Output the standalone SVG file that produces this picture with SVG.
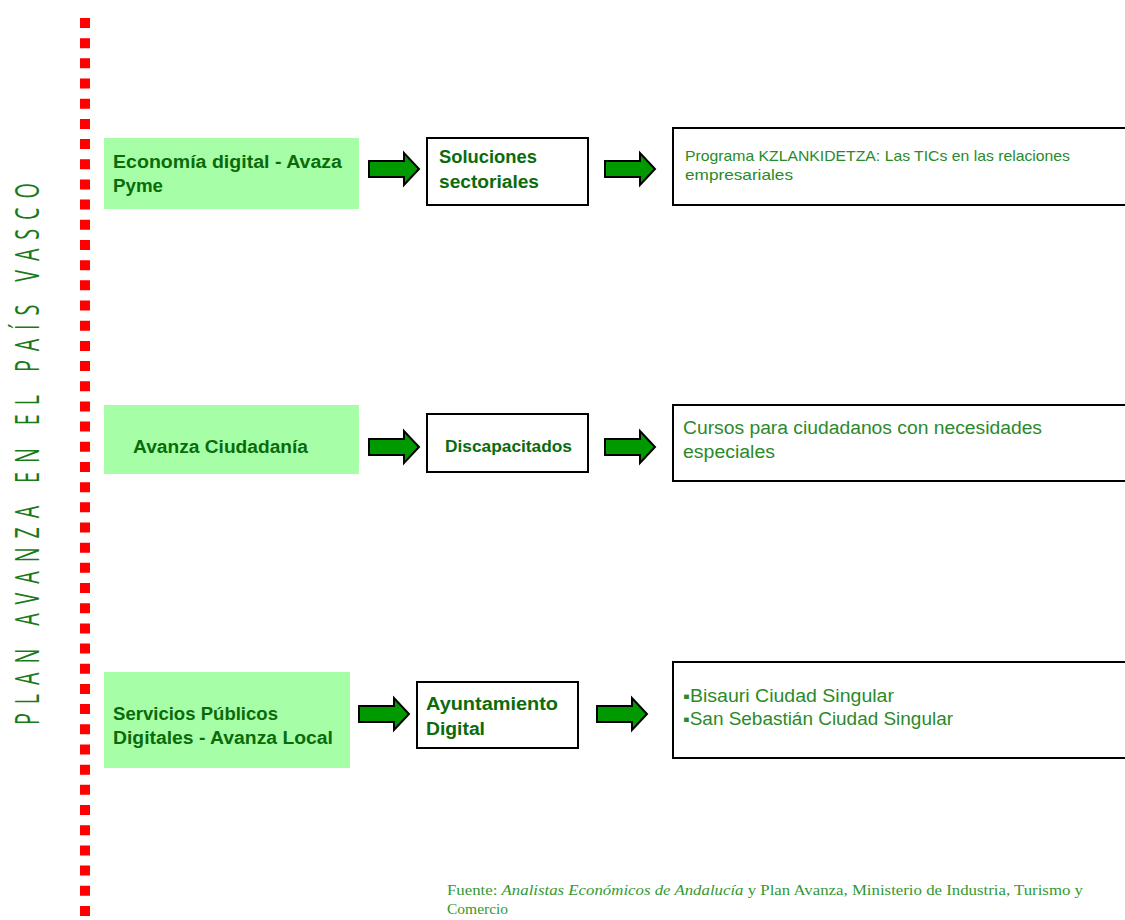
<svg xmlns="http://www.w3.org/2000/svg" width="1125" height="920" viewBox="0 0 1125 920">
<style>
.green{fill:#a6ffa6;stroke:none}
.box{fill:#ffffff;stroke:#000000;stroke-width:2}
.bold{font-family:"Liberation Sans",Arial,sans-serif;font-weight:bold;fill:#0b6b0b}
.light{font-family:"Liberation Sans",Arial,sans-serif;fill:#2a8a2a}
.arrow{fill:#009900;stroke:#000000;stroke-width:2;stroke-linejoin:miter}
.foot{font-family:"Liberation Serif","Times New Roman",serif;font-size:15.5px;fill:#339933}
</style>
<defs>
<path id="arr" d="M0,8 H35 V0 L50,16 L35,32 V24 H0 Z"/>
</defs>
<rect width="1125" height="920" fill="#ffffff"/>
<line x1="85" y1="18" x2="85" y2="916" stroke="#ff0000" stroke-width="10" stroke-dasharray="10 10.18"/>
<text transform="translate(39,725) rotate(-90) scale(0.6,1)" font-family="'Open Sans','Liberation Sans',sans-serif" font-weight="400" font-size="33" fill="#1a7a1a" textLength="903" lengthAdjust="spacing">PLAN AVANZA EN EL PAÍS VASCO</text>

<g id="connectors">
<use href="#arr" class="arrow" x="369" y="153"/>
<use href="#arr" class="arrow" x="605" y="153"/>
<use href="#arr" class="arrow" x="369" y="431"/>
<use href="#arr" class="arrow" x="605" y="431"/>
<use href="#arr" class="arrow" x="359" y="698"/>
<use href="#arr" class="arrow" x="597" y="698"/>
</g>

<g id="n1">
<rect class="green" x="104" y="138" width="255" height="71"/>
<text class="bold" font-size="18"><tspan x="113" y="168" textLength="229" lengthAdjust="spacingAndGlyphs">Economía digital - Avaza</tspan><tspan x="113" y="192" textLength="50" lengthAdjust="spacingAndGlyphs">Pyme</tspan></text>
</g>
<g id="n2">
<rect class="box" x="427" y="138" width="161" height="67"/>
<text class="bold" font-size="18"><tspan x="439" y="163" textLength="98" lengthAdjust="spacingAndGlyphs">Soluciones</tspan><tspan x="439" y="188" textLength="100" lengthAdjust="spacingAndGlyphs">sectoriales</tspan></text>
</g>
<g id="n3">
<rect class="box" x="673" y="128" width="460" height="77"/>
<text class="light" font-size="14.5"><tspan x="685" y="161" textLength="385" lengthAdjust="spacingAndGlyphs">Programa KZLANKIDETZA: Las TICs en las relaciones</tspan><tspan x="685" y="180" textLength="108" lengthAdjust="spacingAndGlyphs">empresariales</tspan></text>
</g>

<g id="n4">
<rect class="green" x="104" y="405" width="255" height="69"/>
<text class="bold" font-size="18" x="133" y="453" textLength="175" lengthAdjust="spacingAndGlyphs">Avanza Ciudadanía</text>
</g>
<g id="n5">
<rect class="box" x="427" y="414" width="161" height="58"/>
<text class="bold" font-size="16" x="445" y="452" textLength="127" lengthAdjust="spacingAndGlyphs">Discapacitados</text>
</g>
<g id="n6">
<rect class="box" x="673" y="405" width="460" height="76"/>
<text class="light" font-size="18"><tspan x="683" y="434" textLength="359" lengthAdjust="spacingAndGlyphs">Cursos para ciudadanos con necesidades</tspan><tspan x="683" y="458" textLength="92" lengthAdjust="spacingAndGlyphs">especiales</tspan></text>
</g>

<g id="n7">
<rect class="green" x="104" y="672" width="246" height="96"/>
<text class="bold" font-size="18"><tspan x="113" y="720" textLength="165" lengthAdjust="spacingAndGlyphs">Servicios Públicos</tspan><tspan x="113" y="744" textLength="220" lengthAdjust="spacingAndGlyphs">Digitales - Avanza Local</tspan></text>
</g>
<g id="n8">
<rect class="box" x="417" y="682" width="161" height="66"/>
<text class="bold" font-size="18"><tspan x="426" y="710" textLength="132" lengthAdjust="spacingAndGlyphs">Ayuntamiento</tspan><tspan x="426" y="735" textLength="59" lengthAdjust="spacingAndGlyphs">Digital</tspan></text>
</g>
<g id="n9">
<rect class="box" x="673" y="662" width="460" height="96"/>
<text class="light" font-size="17.5"><tspan x="683" y="702" textLength="211" lengthAdjust="spacingAndGlyphs">▪Bisauri Ciudad Singular</tspan><tspan x="683" y="725" textLength="270" lengthAdjust="spacingAndGlyphs">▪San Sebastián Ciudad Singular</tspan></text>
</g>

<text class="foot"><tspan x="447" y="895" textLength="636" lengthAdjust="spacingAndGlyphs">Fuente: <tspan font-style="italic">Analistas Económicos de Andalucía</tspan> y Plan Avanza, Ministerio de Industria, Turismo y</tspan><tspan x="447" y="914">Comercio</tspan></text>
</svg>
